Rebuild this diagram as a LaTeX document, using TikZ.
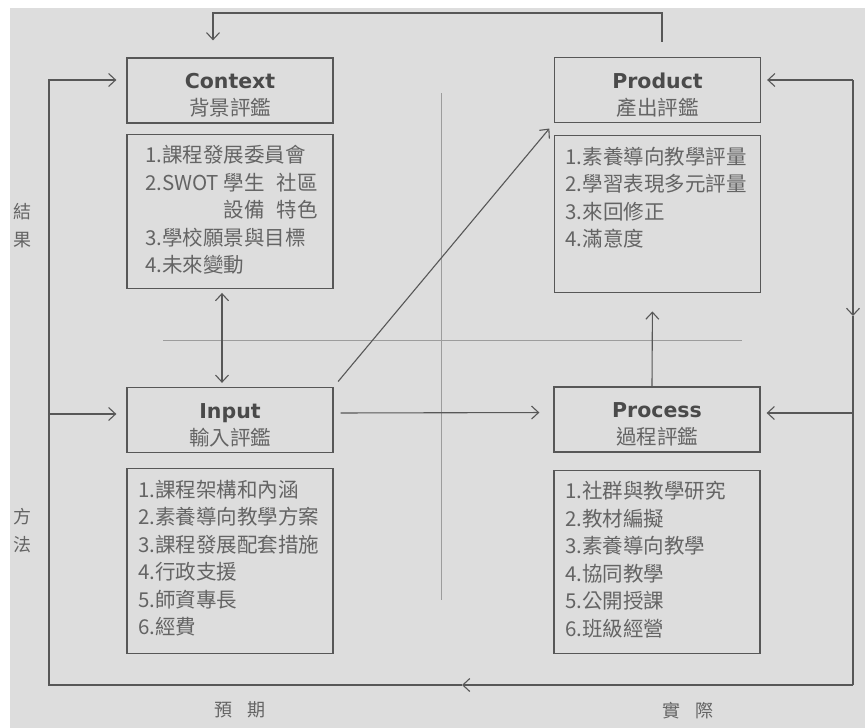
\documentclass[tikz,border=0pt]{standalone}
\usepackage{fontspec}
\setmainfont{Noto Sans CJK TC}
\newfontfamily\titlefont{DejaVu Sans}
\usetikzlibrary{positioning}
\usetikzlibrary{arrows.meta}
\definecolor{linegray}{HTML}{575757}
\definecolor{textgray}{HTML}{646464}
\definecolor{titlegray}{HTML}{4A4A4A}
\definecolor{papergray}{HTML}{DDDDDD}
\definecolor{axisgray}{HTML}{9C9C9C}
\newcommand{\headtext}[2]{\rule{0pt}{25pt}{\titlefont\bfseries\color{titlegray}#1}\\#2}
\newcommand{\itemsbox}[3][0pt]{\parbox[c][#2][t]{184pt}{\raggedright\leftskip=#1 #3}}

\begin{document}
\begin{tikzpicture}
    [x=1pt, y=-1pt,
    post/.style={->,
                 linegray,
                 line width=1.1pt,
                 >={Straight Barb[length=7pt,width=13pt]}},
    wire/.style={linegray,
                 line width=1.1pt},
    head/.style={rectangle,
                 draw=linegray,
                 line width=1.3pt,
                 inner sep=0pt,
                 minimum width=206pt,
                 minimum height=65pt,
                 align=center,
                 text=textgray,
                 font=\fontsize{20.5}{27}\selectfont},
    items/.style={rectangle,
                  draw=linegray,
                  line width=1.3pt,
                  inner xsep=11pt,
                  inner ysep=11pt,
                  text=textgray,
                  font=\fontsize{20.5}{27.5}\selectfont},
    side/.style={text=textgray,
                 align=center,
                 font=\fontsize{18}{28}\selectfont}]
    \useasboundingbox (0,0) rectangle (865,728);
    \fill[papergray] (10,8) rectangle (865,728);
    % dividing axes
    \draw[axisgray, line width=0.6pt] (441,93) -- (441,600);
    \draw[axisgray, line width=0.6pt] (163,340) -- (742,340);

    \node[head] (Context) at (230,90.5) {\headtext{Context}{背景評鑑}};
    \node[items,
          below=10pt of Context] (ContextList)
          {\itemsbox[7pt]{132pt}{1.課程發展委員會\\
           2.SWOT 學生\hspace{0.6em}社區\\
           \phantom{2.SWOT }設備\hspace{0.6em}特色\\
           3.學校願景與目標\\
           4.未來變動}};
    \node[head] (Input) at (230,420) {\headtext{Input}{輸入評鑑}};
    \node[items,
          below=15pt of Input] (InputList)
          {\itemsbox{163pt}{1.課程架構和內涵\\
           2.素養導向教學方案\\
           3.課程發展配套措施\\
           4.行政支援\\
           5.師資專長\\
           6.經費}};
    \node[head] (Product) at (657.5,90) {\headtext{Product}{產出評鑑}};
    \node[items,
          below=12pt of Product] (ProductList)
          {\itemsbox{135pt}{1.素養導向教學評量\\
           2.學習表現多元評量\\
           3.來回修正\\
           4.滿意度}};
    \node[head] (Process) at (657,419.5) {\headtext{Process}{過程評鑑}};
    \node[items,
          below=17pt of Process] (ProcessList)
          {\itemsbox{161pt}{1.社群與教學研究\\
           2.教材編擬\\
           3.素養導向教學\\
           4.協同教學\\
           5.公開授課\\
           6.班級經營}};

    \node[side] (Result) at (22,226) {結\\果};
    \node[side] (Method) at (22,531) {方\\法};
    \node[side] (Expected) at (240,710) {預\hspace{0.8em}期};
    \node[side] (Actual) at (688,711) {實\hspace{0.8em}際};

    % loop round the outside
    \coordinate (TopL) at (213,13);
    \coordinate (BotL) at (49,685);
    \coordinate (BotR) at (853,685);
    \coordinate (BotMid) at (462,685);
    \coordinate (LoopIn) at (49,414);
    \coordinate (RightTop) at (853,80);
    \coordinate (RightMid) at (853,316);
    \coordinate (RightIn) at (853,413);
    \draw[post] ([xshift=4.5pt,yshift=15pt]Product.north) |- (TopL)
          -- ([xshift=-17pt,yshift=17pt]Context.north);
    \draw[post] (RightTop) -- (RightMid);
    \draw[wire] (RightMid) -- (BotR);
    \draw[post] (BotR) -- (BotMid);
    \draw[post, shorten >=10pt] (BotMid) -- (BotL)
          |- ([yshift=10.5pt]Context.west);
    \draw[post, shorten >=10pt] (LoopIn) -- ([yshift=6pt]Input.west);
    \draw[post, shorten >=6pt] (RightTop) -- ([yshift=10pt]Product.east);
    \draw[post, shorten >=6pt] (RightIn) -- ([yshift=6.5pt]Process.east);

    % links between the boxes
    \draw[post, <->, shorten >=4pt, shorten <=4pt]
          ([xshift=-8pt]ContextList.south) -- ([xshift=-8pt]Input.north);
    \draw[post, shorten >=18pt] ([xshift=-5pt]Process.north)
          -- ([xshift=-5pt]ProductList.south);
    \draw[post, shorten <=7pt, shorten >=7pt] (Input.north east)
          -- (Product.south west);
    \draw[post, shorten <=7pt, shorten >=14pt] ([yshift=7pt]Input.east)
          -- ([yshift=7pt]Process.west);
\end{tikzpicture}
\end{document}
